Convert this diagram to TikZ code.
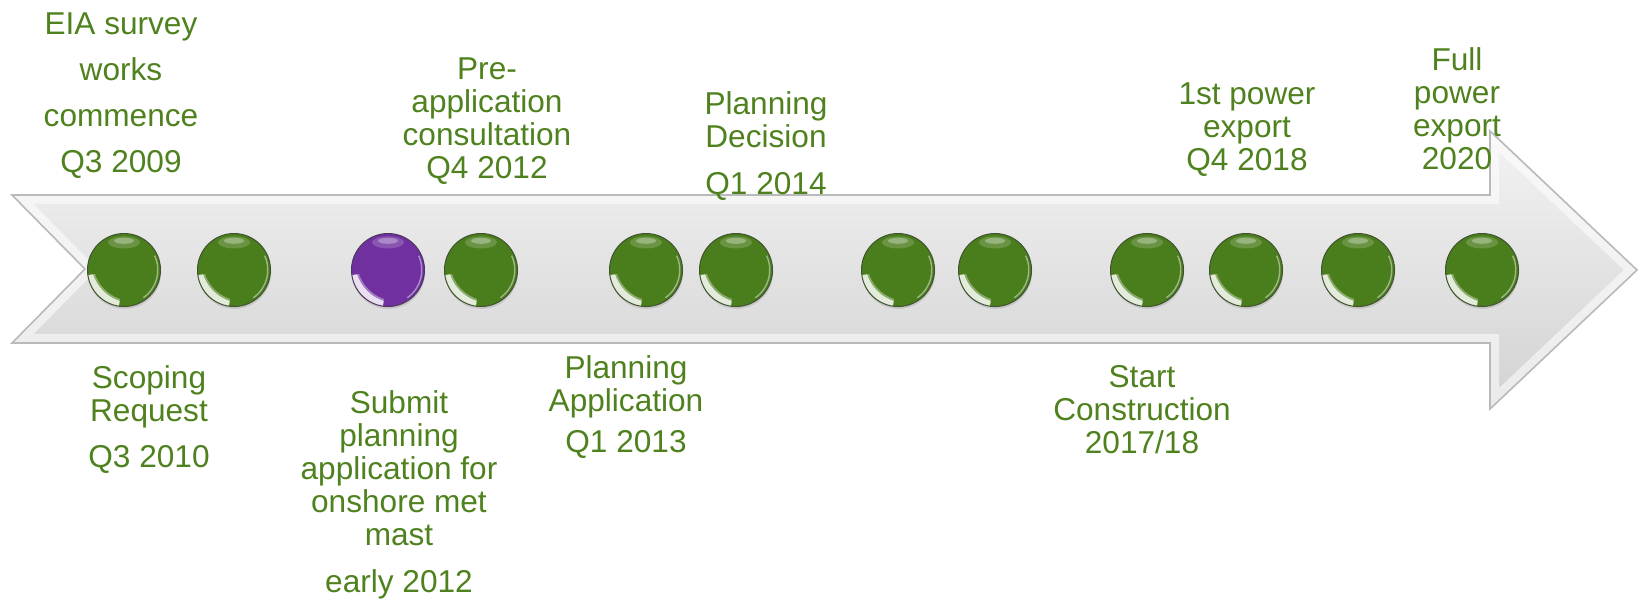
\documentclass[tikz,border=0pt]{standalone}
\usepackage{fontspec}
\setmainfont{Liberation Sans}
\usetikzlibrary{shadows}

\definecolor{ballgreen}{HTML}{4A7D1C}
\definecolor{ballpurple}{HTML}{7030A0}
\definecolor{labelgreen}{HTML}{4F821E}
\definecolor{arrowtop}{HTML}{F3F3F3}
\definecolor{arrowbot}{HTML}{D2D2D2}

\newcommand\lblfont{\fontsize{15.8}{16.5}\selectfont}
\newcommand\arrowpath{(12,195) -- (1490,195) -- (1490,131) -- (1637,270) -- (1490,409) -- (1490,343) -- (12,343) -- (85,269) -- cycle}

\begin{document}
\begin{tikzpicture}[x=0.5pt, y=-0.5pt,
  % labels are placed by the baseline of their last line
  lbl/.style={text=labelgreen, font=\lblfont, align=center, anchor=base, inner sep=0pt},
  ball/.style={circle, minimum size=36.5pt, inner sep=0pt, fill=#1, draw=#1!50!black!70!gray, line width=0.5pt,
    drop shadow={shadow xshift=0.3pt, shadow yshift=-1.2pt, opacity=.25},
    path picture={
      \begin{scope}[shift={(path picture bounding box.center)}]
        % glossy crescent, lower left
        \begin{scope}
          \clip (0,0) -- (188:22pt) arc[start angle=188, end angle=262, radius=22pt] -- cycle;
          \fill[white!60!#1, opacity=.6, even odd rule] (0,0) circle[radius=18.5pt] (4.3pt,4.3pt) circle[radius=19.8pt];
          \fill[white!90!#1, opacity=.9, even odd rule] (0,0) circle[radius=18.5pt] (4.3pt,4.3pt) circle[radius=20.8pt];
        \end{scope}
        % soft glint at the top
        \fill[white, opacity=.18] (0,13.8pt) ellipse[x radius=8pt, y radius=3pt];
        \fill[white, opacity=.3] (0,14.6pt) ellipse[x radius=5pt, y radius=1.5pt];
        \draw[white, opacity=.45, line width=0.7pt] (-55:16.9pt) arc[start angle=-55, end angle=25, radius=16.9pt];
      \end{scope}}}
]
\useasboundingbox (0,0) rectangle (1641,602);

% arrow
\path[top color=arrowtop, bottom color=arrowbot] \arrowpath;
\begin{scope}
  \clip \arrowpath;
  \draw[white, opacity=.55, line width=9pt] \arrowpath;
\end{scope}
\draw[gray!55, line width=0.8pt] \arrowpath;

% milestones
\foreach \x/\c [count=\i] in {124/ballgreen, 234/ballgreen, 388/ballpurple, 481/ballgreen,
    646/ballgreen, 736/ballgreen, 898/ballgreen, 995/ballgreen,
    1147/ballgreen, 1246/ballgreen, 1358/ballgreen, 1482/ballgreen}
  \node[ball=\c] (b\i) at (\x,270) {};

% labels above
\node[lbl] (eia) at (121,172) {EIA survey\\[6.5pt]works\\[6.5pt]commence\\[6.5pt]Q3 2009};
\node[lbl] (preapp) at (487,178) {Pre-\\application\\consultation\\Q4 2012};
\node[lbl] (decision) at (766,194) {Planning\\Decision\\[7pt]Q1 2014};
\node[lbl] (firstpow) at (1247,170) {1st power\\export\\Q4 2018};
\node[lbl] (fullpow) at (1457,169) {Full\\power\\export\\2020};

% labels below
\node[lbl] (scoping) at (149,467) {Scoping\\Request\\[6.5pt]Q3 2010};
\node[lbl] (submit) at (399,592) {Submit\\planning\\application for\\onshore met\\mast\\[7pt]early 2012};
\node[lbl] (planapp) at (626,452) {Planning\\Application\\[4pt]Q1 2013};
\node[lbl] (construct) at (1142,453) {Start\\Construction\\2017/18};
\end{tikzpicture}
\end{document}
